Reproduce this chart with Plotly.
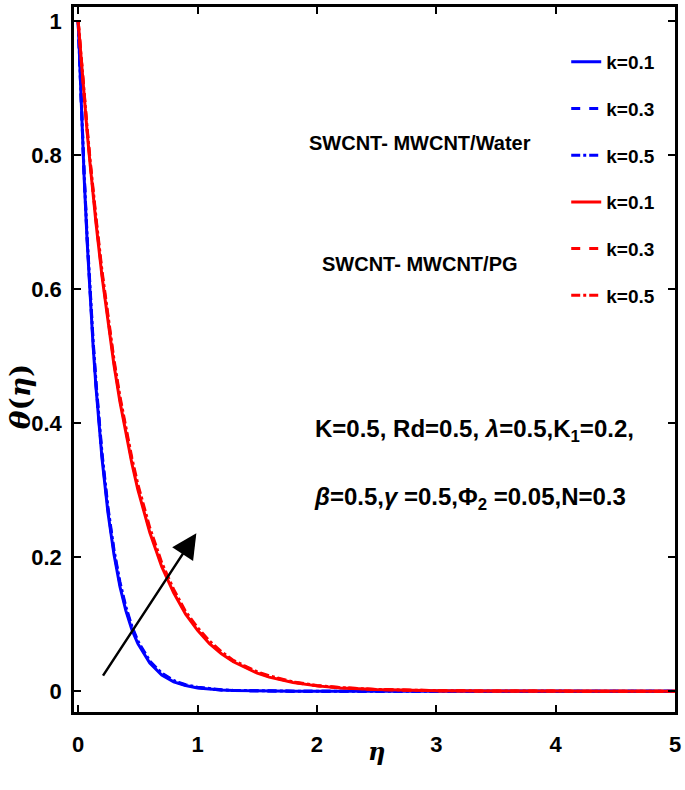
import plotly.graph_objects as go

# ---------------- data ----------------
eta = [0, 0.025, 0.05, 0.075, 0.1, 0.125, 0.15, 0.2, 0.25, 0.3, 0.35, 0.4, 0.45, 0.5,
       0.6, 0.7, 0.8, 0.9, 1.0, 1.1, 1.2, 1.3, 1.4, 1.5, 1.6, 1.8, 2.0, 2.2, 2.5, 2.8,
       3.0, 3.5, 4.0, 4.5, 5.0]

water_k01 = [1, 0.876, 0.767, 0.672, 0.589, 0.516, 0.452, 0.347, 0.266, 0.204, 0.156, 0.120,
             0.092, 0.071, 0.042, 0.024, 0.014, 0.0085, 0.005, 0.003, 0.0017, 0.001, 0.0006,
             0.0004, 0.0002, 0.0001, 0, 0, 0, 0, 0, 0, 0, 0, 0]
water_k03 = [1, 0.878, 0.770, 0.676, 0.593, 0.520, 0.456, 0.351, 0.270, 0.208, 0.160, 0.123,
             0.095, 0.073, 0.044, 0.026, 0.015, 0.009, 0.0055, 0.0033, 0.0019, 0.0011, 0.0007,
             0.0004, 0.0002, 0.0001, 0, 0, 0, 0, 0, 0, 0, 0, 0]
water_k05 = [1, 0.880, 0.773, 0.679, 0.597, 0.524, 0.460, 0.355, 0.274, 0.211, 0.163, 0.126,
             0.097, 0.075, 0.045, 0.027, 0.016, 0.0097, 0.006, 0.0036, 0.0021, 0.0012, 0.0008,
             0.0005, 0.0003, 0.0001, 0, 0, 0, 0, 0, 0, 0, 0, 0]

pg_k01 = [1, 0.942, 0.887, 0.835, 0.787, 0.741, 0.698, 0.619, 0.549, 0.487, 0.432, 0.383,
          0.340, 0.301, 0.237, 0.186, 0.147, 0.115, 0.091, 0.071, 0.056, 0.044, 0.035,
          0.027, 0.021, 0.013, 0.008, 0.005, 0.0025, 0.0012, 0.0008, 0.0003, 0.0001, 0, 0]
pg_k03 = [1, 0.943, 0.889, 0.838, 0.790, 0.745, 0.702, 0.623, 0.553, 0.491, 0.436, 0.387,
          0.344, 0.305, 0.240, 0.189, 0.149, 0.117, 0.093, 0.073, 0.057, 0.045, 0.036,
          0.028, 0.022, 0.0135, 0.0083, 0.0052, 0.0026, 0.0013, 0.0008, 0.0003, 0.0001, 0, 0]
pg_k05 = [1, 0.944, 0.891, 0.841, 0.793, 0.748, 0.706, 0.627, 0.557, 0.495, 0.440, 0.391,
          0.348, 0.309, 0.244, 0.192, 0.152, 0.119, 0.095, 0.075, 0.059, 0.046, 0.037,
          0.029, 0.023, 0.014, 0.0086, 0.0054, 0.0027, 0.0014, 0.0009, 0.0003, 0.0001, 0, 0]

k_labels = ["k=0.1", "k=0.3", "k=0.5"]
x_ticks = [0, 1, 2, 3, 4, 5]
y_ticks = [0, 0.2, 0.4, 0.6, 0.8, 1]
y_tick_text = ["0", "0.2", "0.4", "0.6", "0.8", "1"]

# ---------------- styling ----------------
FONT = "Liberation Sans, Arial, sans-serif"
BLUE = "rgb(0,0,255)"
RED = "rgb(255,0,0)"
dashes = ["solid", "dash", "dashdot"]

fig = go.Figure()
series = [(water_k01, BLUE), (water_k03, BLUE), (water_k05, BLUE),
          (pg_k01, RED), (pg_k03, RED), (pg_k05, RED)]
for i, (vals, col) in enumerate(series):
    fig.add_trace(go.Scatter(
        x=eta, y=vals, mode="lines", name=k_labels[i % 3],
        line=dict(color=col, width=3, dash=dashes[i % 3]),
        legendgroup=f"g{i}",
    ))

tick_font = dict(family=FONT, size=22, color="black", weight="bold")

fig.update_layout(
    width=685, height=790,
    margin=dict(l=74, r=9, t=4, b=78),
    paper_bgcolor="white", plot_bgcolor="white",
    font=dict(family=FONT, size=20, color="black", weight="bold"),
    showlegend=True,
    legend=dict(
        x=0.819, y=0.949, xanchor="left", yanchor="top",
        bgcolor="rgba(0,0,0,0)", borderwidth=0,
        traceorder="grouped", tracegroupgap=19,
        font=dict(family=FONT, size=19, color="black", weight="bold"),
    ),
    xaxis=dict(
        range=[-0.035, 5.0], tickvals=x_ticks, ticks="inside", ticklen=7, tickwidth=2,
        tickcolor="black", showline=True, linecolor="black", linewidth=2.5,
        mirror="ticks", showgrid=False, zeroline=False,
        tickfont=tick_font, ticklabelstandoff=11,
    ),
    yaxis=dict(
        range=[-0.031, 1.0216], tickvals=y_ticks, ticktext=y_tick_text, ticks="inside",
        ticklen=7, tickwidth=2, tickcolor="black", showline=True, linecolor="black",
        linewidth=2.5, mirror="ticks", showgrid=False, zeroline=False,
        tickfont=tick_font, ticklabelstandoff=5,
    ),
)

label_font = dict(family=FONT, size=20, color="black", weight="bold")
param_font = dict(family=FONT, size=24, color="black", weight="bold")
fig.add_annotation(x=2.86, y=0.819, xref="x", yref="y", text="SWCNT- MWCNT/Water",
                   showarrow=False, font=label_font, xanchor="center", yanchor="middle")
fig.add_annotation(x=2.86, y=0.638, xref="x", yref="y", text="SWCNT- MWCNT/PG",
                   showarrow=False, font=label_font, xanchor="center", yanchor="middle")
fig.add_annotation(x=1.966, y=0.39, xref="x", yref="y",
                   text="K=0.5, Rd=0.5, <i>λ</i>=0.5,K<sub>1</sub>=0.2,",
                   showarrow=False, font=param_font, xanchor="left", yanchor="middle")
fig.add_annotation(x=1.957, y=0.288, xref="x", yref="y",
                   text="<i>β</i>=0.5,<i>γ</i> =0.5,Φ<sub>2</sub> =0.05,N=0.3",
                   showarrow=False, font=param_font, xanchor="left", yanchor="middle")

# arrow indicating increasing k
fig.add_annotation(x=0.99, y=0.236, ax=0.2, ay=0.021, xref="x", yref="y", axref="x", ayref="y",
                   text="", showarrow=True, arrowhead=2, arrowsize=2.0, arrowwidth=2.5,
                   arrowcolor="black")

# axis titles
fig.add_annotation(x=2.5, y=-0.056, xref="x", yref="paper", text="<i>η</i>",
                   showarrow=False, font=dict(family="DejaVu Serif, serif", size=24, color="black"),
                   xanchor="center", yanchor="middle")
fig.add_annotation(x=-0.0897, y=0.448, xref="paper", yref="paper", text="<i>θ</i>(<i>η</i>)",
                   showarrow=False, textangle=-90,
                   font=dict(family="DejaVu Serif, serif", size=28, color="black"),
                   xanchor="center", yanchor="middle")

fig.write_html("out.html", config={"displayModeBar": False},
               post_script="document.body.style.margin='0';document.body.style.overflow='hidden';")
